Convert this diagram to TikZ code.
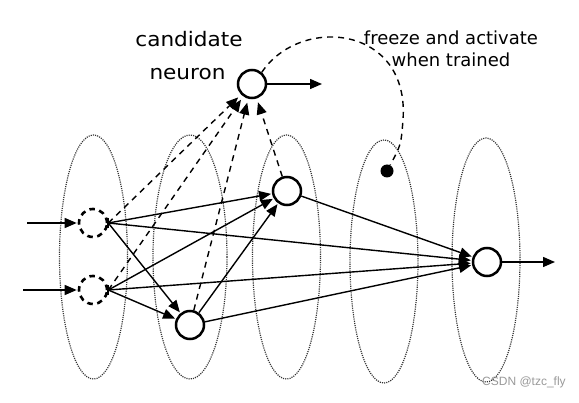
\documentclass[tikz,border=0pt]{standalone}
\usepackage{fontspec}
\setmainfont{DejaVu Sans}
\newfontfamily\candfont[FakeStretch=1.08]{DejaVu Sans}
\newfontfamily\wmfont{Liberation Sans}
\usetikzlibrary{arrows.meta}
\begin{document}
\begin{tikzpicture}[x=1pt,y=-1pt,
  layer/.style={dash pattern=on 1.1pt off 1.1pt, line width=1.2pt, black!80},
  neuron/.style={circle, draw, line width=2.5pt, minimum size=28pt, inner sep=0pt, fill=white},
  inneuron/.style={circle, draw, line width=2.6pt, minimum size=28pt, inner sep=0pt, dash pattern=on 5.5pt off 4.5pt},
  conn/.style={line width=1.4pt, -{Triangle[length=12pt,width=10pt]}, shorten >=1pt},
  cconn/.style={conn, dash pattern=on 6pt off 5pt},
  bigtxt/.style={font=\candfont\fontsize{20}{24}\selectfont, anchor=base, inner sep=0pt},
  smtxt/.style={font=\fontsize{18}{22}\selectfont, anchor=base, inner sep=0pt},
  wm/.style={font=\wmfont\fontsize{12}{14}\selectfont, text=black!40, anchor=base west, inner sep=0pt}
]
\useasboundingbox (0,0) rectangle (579,403);
% layers
\draw[layer] (93.5,257) ellipse [x radius=34pt, y radius=122pt];
\draw[layer] (190,257) ellipse [x radius=37pt, y radius=122pt];
\draw[layer] (286.5,257) ellipse [x radius=34pt, y radius=122pt];
\draw[layer] (384,261.5) ellipse [x radius=34pt, y radius=121.5pt];
\draw[layer] (486,260) ellipse [x radius=34pt, y radius=122pt];

% nodes
\node[inneuron] (i1) at (93,223) {};
\node[inneuron] (i2) at (93,290) {};
\node[neuron] (h1) at (190,325) {};
\node[neuron] (h2) at (287,191) {};
\node[neuron] (o) at (487,262) {};
\node[neuron] (c) at (252,84) {};
\node[circle, fill=black, minimum size=13pt, inner sep=0pt] (dot) at (387,171) {};

\coordinate (in1) at (27,223);
\coordinate (in2) at (23,290);
\coordinate (out) at (556,262);
\coordinate (cout) at (323,84);

% labels
\node[bigtxt] (t1) at (189,47) {candidate};
\node[bigtxt] (t2) at (187.5,80) {neuron};
\node[smtxt] (t3) at (451,45) {freeze and activate};
\node[smtxt] (t4) at (451,67) {when trained};
\node[wm] (wmk) at (482,386) {CSDN @tzc\_fly};

% input / output arrows
\draw[conn] (in1) -- (i1);
\draw[conn] (in2) -- (i2);
\draw[conn] (o) -- (out);
\draw[conn] (c) -- (cout);

% ticks at inputs
\draw[line width=1.8pt] ([yshift=5pt]i1.east) -- ([yshift=-5pt]i1.east);
\draw[line width=1.8pt] ([yshift=5pt]i2.east) -- ([yshift=-5pt]i2.east);

% solid connections
\draw[conn] (i1.east) -- (h2);
\draw[conn] (i1.east) -- (h1);
\draw[conn] (i1.east) -- (o);
\draw[conn] (i2.east) -- (h2);
\draw[conn] (i2.east) -- (h1);
\draw[conn] (i2.east) -- (o);
\draw[conn] (h1) -- (h2);
\draw[conn] (h1) -- (o);
\draw[conn] (h2) -- (o);

% dashed connections to candidate
\draw[cconn, shorten >=4pt] (i1.east) -- (c);
\draw[cconn, shorten >=4pt] (i2.east) -- (c);
\draw[cconn, shorten >=4pt] (h1) -- (c);
\draw[cconn, shorten >=4pt] (h2) -- (c);

% freeze curve
\draw[line width=1.4pt, dash pattern=on 6pt off 5pt] (c.50) .. controls (300,15) and (410,25) .. (403,120) .. controls (401,145) .. (dot);
\end{tikzpicture}
\end{document}
